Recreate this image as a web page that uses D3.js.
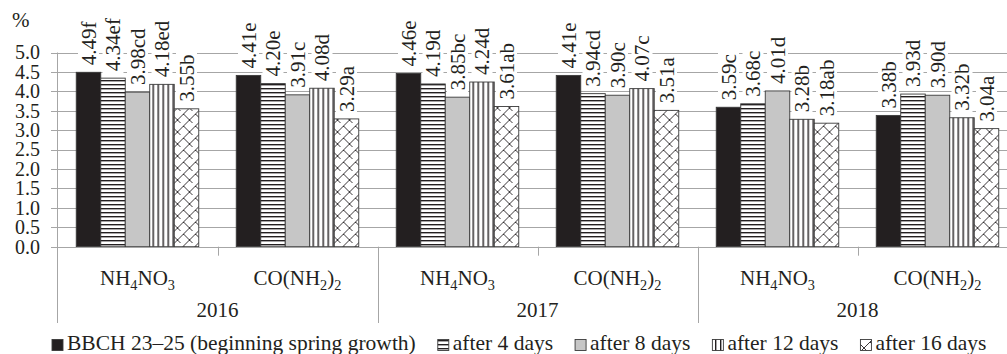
<!DOCTYPE html>
<html>
<head>
<meta charset="utf-8">
<script src="https://cdn.jsdelivr.net/npm/d3@7"></script>
<style>
  body { margin: 0; background: #fff; }
  svg { display: block; }
  text { font-family: "Liberation Serif", "Times New Roman", serif; fill: #231f20; }
</style>
</head>
<body>
<svg id="chart" width="1007" height="354"></svg>
<script>
// Nitrogen content (%) by year, fertilizer and sampling time
const years = ["2016", "2017", "2018"];
const fertilizers = ["NH4NO3", "CO(NH2)2"];
const series = [
  "BBCH 23\u201325 (beginning spring growth)",
  "after 4 days",
  "after 8 days",
  "after 12 days",
  "after 16 days"
];
// one row per year/fertilizer group, one column per series
const values = [
  [4.49, 4.34, 3.98, 4.18, 3.55],
  [4.41, 4.20, 3.91, 4.08, 3.29],
  [4.46, 4.19, 3.85, 4.24, 3.61],
  [4.41, 3.94, 3.90, 4.07, 3.51],
  [3.59, 3.68, 4.01, 3.28, 3.18],
  [3.38, 3.93, 3.90, 3.32, 3.04]
];
const letters = [
  ["f", "ef", "cd", "ed", "b"],
  ["e", "e", "c", "d", "a"],
  ["e", "d", "bc", "d", "ab"],
  ["e", "cd", "c", "c", "a"],
  ["c", "c", "d", "b", "ab"],
  ["b", "d", "d", "b", "a"]
];
const yTicks = [0, 0.5, 1, 1.5, 2, 2.5, 3, 3.5, 4, 4.5, 5];

const svg = d3.select("#chart");
const FONT = 21;
const GRID = "#a6a6a6";
const INK = "#231f20";

// ---- patterns ----
const defs = svg.append("defs");
const hp = defs.append("pattern").attr("id", "hstripe").attr("patternUnits", "userSpaceOnUse")
  .attr("width", 8).attr("height", 4);
hp.append("rect").attr("width", 8).attr("height", 4).attr("fill", "#fff");
hp.append("rect").attr("y", 0).attr("width", 8).attr("height", 1.4).attr("fill", INK);

const vp = defs.append("pattern").attr("id", "vstripe").attr("patternUnits", "userSpaceOnUse")
  .attr("width", 5).attr("height", 8);
vp.append("rect").attr("width", 5).attr("height", 8).attr("fill", "#fff");
vp.append("rect").attr("x", 0).attr("width", 1.4).attr("height", 8).attr("fill", INK);

const sp = defs.append("pattern").attr("id", "shingle").attr("patternUnits", "userSpaceOnUse")
  .attr("width", 12).attr("height", 12);
sp.append("rect").attr("width", 12).attr("height", 12).attr("fill", "#fff");
sp.append("path").attr("d", "M0,12 L12,0 M6,6 L12,12 M0,0 L3,3")
  .attr("stroke", INK).attr("stroke-width", 0.9).attr("fill", "none");

const fills = ["#231f20", "url(#hstripe)", "#c6c6c6", "url(#vstripe)", "url(#shingle)"];

// ---- scales ----
const x0 = d3.scaleBand().domain(d3.range(values.length)).range([57.5, 1017.5]);
const x1 = d3.scaleBand().domain(d3.range(series.length)).range([0, x0.bandwidth()])
  .paddingInner(0).paddingOuter(0.765);
const y = d3.scaleLinear().domain([0, 5]).range([246.7, 52.5]);

const axisBottom = 323;

// ---- gridlines with left ticks ----
svg.append("g").selectAll("line").data(yTicks).join("line")
  .attr("x1", 51).attr("x2", 1007)
  .attr("y1", d => Math.round(y(d)) + 0.5).attr("y2", d => Math.round(y(d)) + 0.5)
  .attr("stroke", GRID).attr("stroke-width", 1);

// y tick labels
svg.append("g").selectAll("text").data(yTicks).join("text")
  .attr("x", 40).attr("y", d => y(d)).attr("dy", "0.34em")
  .attr("text-anchor", "end").attr("font-size", 20)
  .text(d => d3.format(".1f")(d));

svg.append("text").attr("x", 12).attr("y", 27).attr("font-size", FONT).text("%");

// ---- bars ----
const groups = svg.append("g").selectAll("g").data(values).join("g")
  .attr("transform", (d, i) => `translate(${x0(i)},0)`);

groups.selectAll("rect").data(d => d).join("rect")
  .attr("x", (d, j) => x1(j))
  .attr("y", d => y(d))
  .attr("width", x1.bandwidth())
  .attr("height", d => y(0) - y(d))
  .attr("fill", (d, j) => fills[j])
  .attr("stroke", "#3a3a3a").attr("stroke-width", 0.9);

// ---- value labels (rotated, on white boxes) ----
const labelLayer = svg.append("g");
values.forEach((row, i) => {
  row.forEach((v, j) => {
    const cx = x0(i) + x1(j) + x1.bandwidth() / 2;
    const y0 = y(v) - 7;
    const g = labelLayer.append("g").attr("transform", `translate(${cx},${y0}) rotate(-90)`);
    const bg = g.append("rect").attr("fill", "#fff");
    const t = g.append("text").attr("x", 0).attr("y", 0).attr("dy", "0.34em")
      .attr("font-size", FONT).text(d3.format(".2f")(v) + letters[i][j]);
    const len = t.node().getComputedTextLength();
    bg.attr("x", -2).attr("y", -10.5).attr("width", len + 4).attr("height", 21);
  });
});

// ---- axes ----
svg.append("line").attr("x1", 57.5).attr("x2", 57.5).attr("y1", y(5)).attr("y2", axisBottom)
  .attr("stroke", GRID);
svg.append("line").attr("x1", 51).attr("x2", 1007)
  .attr("y1", Math.round(y(0)) + 0.5).attr("y2", Math.round(y(0)) + 0.5).attr("stroke", GRID);

// short ticks between fertilizers, long separators between years
values.forEach((row, i) => {
  if (i === 0) return;
  const xb = Math.round(x0(i)) + 0.5;
  const long = i % 2 === 0;
  svg.append("line").attr("x1", xb).attr("x2", xb)
    .attr("y1", y(0)).attr("y2", long ? axisBottom : y(0) + 9)
    .attr("stroke", GRID);
});

// fertilizer labels with subscripts
function chemLabel(sel, name) {
  const parts = name.match(/[A-Za-z()]+|\d+/g);
  parts.forEach(p => {
    if (/^\d+$/.test(p)) {
      sel.append("tspan").attr("font-size", FONT * 0.68).attr("dy", 5).text(p);
    } else {
      const ts = sel.append("tspan").text(p);
      if (sel.selectAll("tspan").size() > 1) ts.attr("dy", -5);
    }
  });
}
values.forEach((row, i) => {
  const name = fertilizers[i % 2];
  const t = svg.append("text").attr("x", x0(i) + x0.bandwidth() / 2).attr("y", 285)
    .attr("text-anchor", "middle").attr("font-size", FONT);
  chemLabel(t, name);
});

years.forEach((yr, k) => {
  svg.append("text").attr("x", x0(2 * k) + x0.bandwidth()).attr("y", 317)
    .attr("text-anchor", "middle").attr("font-size", FONT).text(yr);
});

// ---- legend ----
const legend = svg.append("g");
let lx = 52;
series.forEach((s, j) => {
  legend.append("rect").attr("x", lx).attr("y", 339.5).attr("width", 11).attr("height", 11)
    .attr("fill", fills[j]).attr("stroke", "#3a3a3a").attr("stroke-width", 0.9);
  const t = legend.append("text").attr("x", lx + 15).attr("y", 349.5)
    .attr("font-size", 21.5).text(s);
  lx += 15 + t.node().getComputedTextLength() + 22;
});
</script>
</body>
</html>
